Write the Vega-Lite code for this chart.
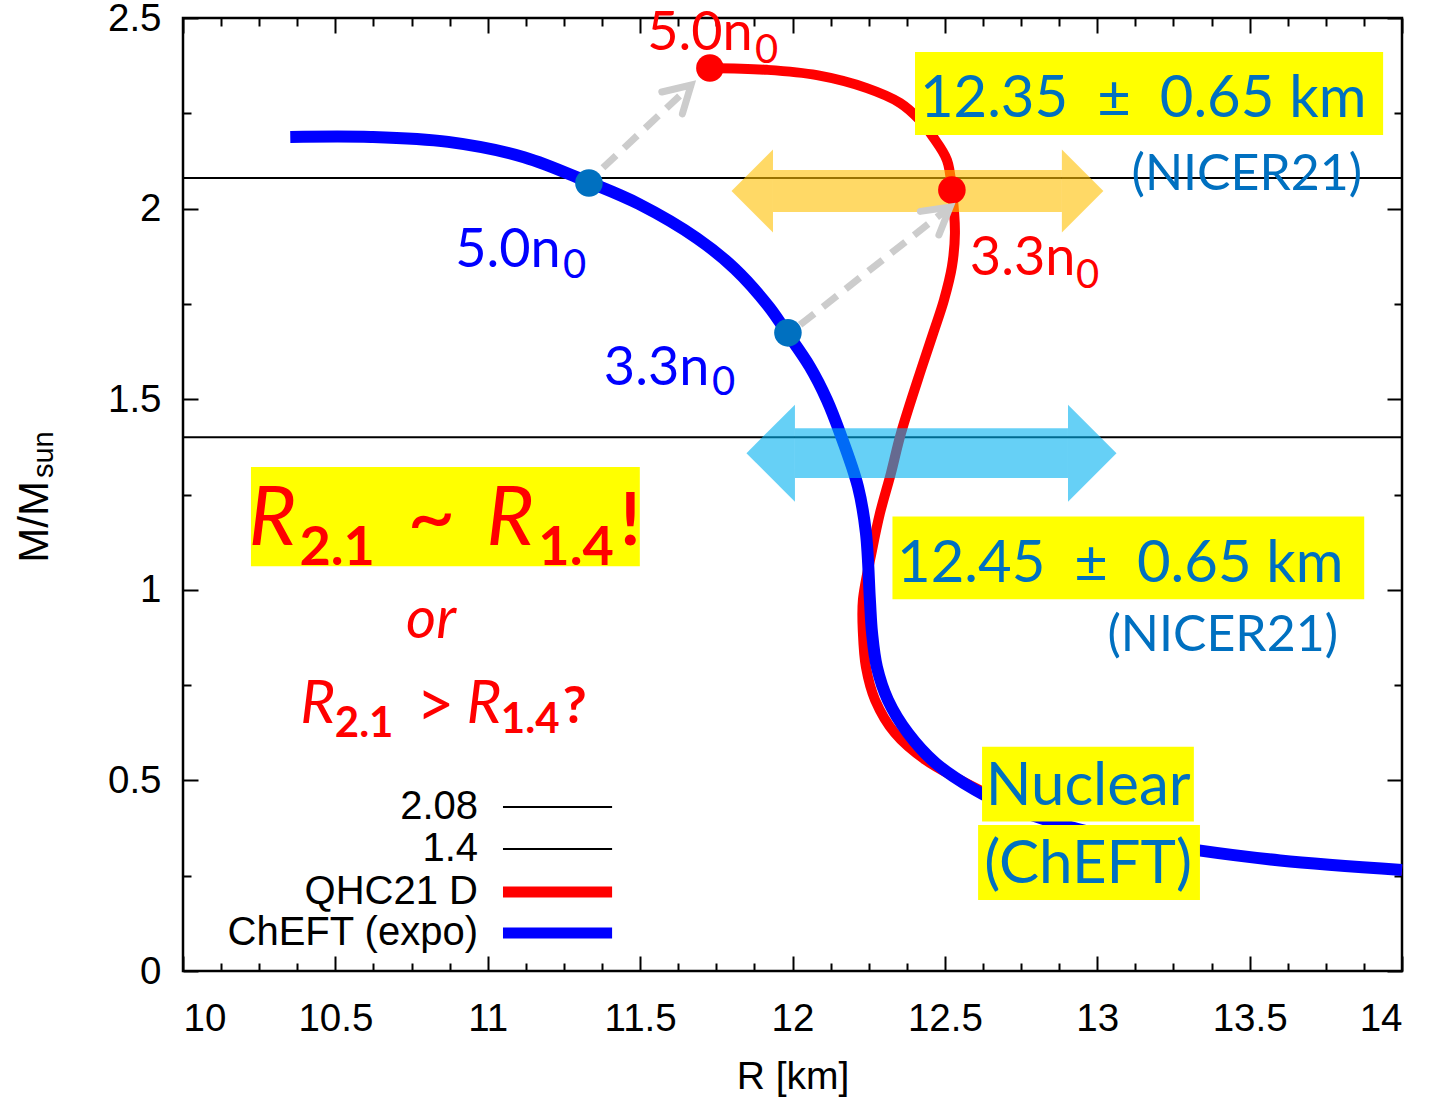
{
  "$schema": "https://vega.github.io/schema/vega-lite/v6.json",
  "width": 1219,
  "height": 953,
  "autosize": {"type": "none"},
  "padding": {"left": 183, "top": 18, "right": 32, "bottom": 130},
  "background": "white",
  "config": {
    "view": {"stroke": "black", "strokeWidth": 2.5},
    "axis": {"grid": false, "domain": false, "labelFont": "Liberation Sans", "titleFont": "Liberation Sans", "labelColor": "black", "titleColor": "black", "tickColor": "black", "tickWidth": 2}
  },
  "datasets": {
    "curves": [
      {"eos": "QHC21 D", "R": 11.729, "M": 2.369},
      {"eos": "QHC21 D", "R": 11.916, "M": 2.364},
      {"eos": "QHC21 D", "R": 12.080, "M": 2.350},
      {"eos": "QHC21 D", "R": 12.244, "M": 2.316},
      {"eos": "QHC21 D", "R": 12.353, "M": 2.277},
      {"eos": "QHC21 D", "R": 12.418, "M": 2.232},
      {"eos": "QHC21 D", "R": 12.461, "M": 2.188},
      {"eos": "QHC21 D", "R": 12.507, "M": 2.127},
      {"eos": "QHC21 D", "R": 12.523, "M": 2.049},
      {"eos": "QHC21 D", "R": 12.533, "M": 1.936},
      {"eos": "QHC21 D", "R": 12.523, "M": 1.847},
      {"eos": "QHC21 D", "R": 12.497, "M": 1.760},
      {"eos": "QHC21 D", "R": 12.462, "M": 1.674},
      {"eos": "QHC21 D", "R": 12.425, "M": 1.585},
      {"eos": "QHC21 D", "R": 12.356, "M": 1.411},
      {"eos": "QHC21 D", "R": 12.323, "M": 1.306},
      {"eos": "QHC21 D", "R": 12.287, "M": 1.201},
      {"eos": "QHC21 D", "R": 12.261, "M": 1.104},
      {"eos": "QHC21 D", "R": 12.231, "M": 0.973},
      {"eos": "QHC21 D", "R": 12.231, "M": 0.887},
      {"eos": "QHC21 D", "R": 12.241, "M": 0.797},
      {"eos": "QHC21 D", "R": 12.271, "M": 0.711},
      {"eos": "QHC21 D", "R": 12.336, "M": 0.624},
      {"eos": "QHC21 D", "R": 12.435, "M": 0.554},
      {"eos": "QHC21 D", "R": 12.550, "M": 0.501},
      {"eos": "QHC21 D", "R": 12.681, "M": 0.449},
      {"eos": "QHC21 D", "R": 12.878, "M": 0.388},
      {"eos": "QHC21 D", "R": 13.009, "M": 0.357},
      {"eos": "QHC21 D", "R": 13.327, "M": 0.317},
      {"eos": "QHC21 D", "R": 13.600, "M": 0.290},
      {"eos": "QHC21 D", "R": 14.000, "M": 0.265},
      {"eos": "ChEFT (expo)", "R": 10.352, "M": 2.188},
      {"eos": "ChEFT (expo)", "R": 10.617, "M": 2.188},
      {"eos": "ChEFT (expo)", "R": 10.870, "M": 2.175},
      {"eos": "ChEFT (expo)", "R": 11.119, "M": 2.135},
      {"eos": "ChEFT (expo)", "R": 11.329, "M": 2.070},
      {"eos": "ChEFT (expo)", "R": 11.496, "M": 2.012},
      {"eos": "ChEFT (expo)", "R": 11.687, "M": 1.922},
      {"eos": "ChEFT (expo)", "R": 11.811, "M": 1.842},
      {"eos": "ChEFT (expo)", "R": 11.923, "M": 1.742},
      {"eos": "ChEFT (expo)", "R": 11.982, "M": 1.674},
      {"eos": "ChEFT (expo)", "R": 12.057, "M": 1.585},
      {"eos": "ChEFT (expo)", "R": 12.113, "M": 1.498},
      {"eos": "ChEFT (expo)", "R": 12.156, "M": 1.411},
      {"eos": "ChEFT (expo)", "R": 12.215, "M": 1.270},
      {"eos": "ChEFT (expo)", "R": 12.241, "M": 1.149},
      {"eos": "ChEFT (expo)", "R": 12.254, "M": 0.973},
      {"eos": "ChEFT (expo)", "R": 12.261, "M": 0.887},
      {"eos": "ChEFT (expo)", "R": 12.277, "M": 0.797},
      {"eos": "ChEFT (expo)", "R": 12.313, "M": 0.711},
      {"eos": "ChEFT (expo)", "R": 12.379, "M": 0.624},
      {"eos": "ChEFT (expo)", "R": 12.470, "M": 0.545},
      {"eos": "ChEFT (expo)", "R": 12.599, "M": 0.475},
      {"eos": "ChEFT (expo)", "R": 12.700, "M": 0.435},
      {"eos": "ChEFT (expo)", "R": 12.850, "M": 0.392},
      {"eos": "ChEFT (expo)", "R": 13.000, "M": 0.360},
      {"eos": "ChEFT (expo)", "R": 13.327, "M": 0.317},
      {"eos": "ChEFT (expo)", "R": 13.600, "M": 0.290},
      {"eos": "ChEFT (expo)", "R": 14.000, "M": 0.265}
    ],
    "legendRows": [
      {"label": "2.08", "R": 10.968, "R1": 11.050, "R2": 11.408, "M": 0.430},
      {"label": "1.4", "R": 10.968, "R1": 11.050, "R2": 11.408, "M": 0.320},
      {"label": "QHC21 D", "R": 10.968, "R1": 11.050, "R2": 11.408, "M": 0.207},
      {"label": "ChEFT (expo)", "R": 10.968, "R1": 11.050, "R2": 11.408, "M": 0.0997}
    ]
  },
  "resolve": {"axis": {"x": "independent", "y": "independent"}},
  "layer": [
    {
      "data": {"values": [{"level": 2.08}, {"level": 1.4}]},
      "mark": {"type": "rule", "color": "black", "strokeWidth": 2},
      "encoding": {
        "y": {"field": "level", "type": "quantitative", "scale": {"domain": [0, 2.5], "nice": false, "zero": true},
          "axis": {"orient": "right", "values": [0, 0.5, 1, 1.5, 2, 2.5], "labels": false, "tickSize": -15, "title": null}}
      }
    },
    {
      "data": {"name": "curves"},
      "transform": [{"filter": "datum.eos === 'QHC21 D'"}],
      "mark": {"type": "line", "strokeWidth": 10, "strokeCap": "butt", "strokeJoin": "round", "interpolate": "catmull-rom"},
      "encoding": {
        "x": {"field": "R", "type": "quantitative", "scale": {"domain": [10, 14], "nice": false, "zero": false},
          "axis": {"orient": "bottom", "values": [10, 10.5, 11, 11.5, 12, 12.5, 13, 13.5, 14], "format": "~g", "ticks": false, "labelFontSize": 38.5, "labelPadding": 29, "title": "R [km]", "titleFontSize": 39, "titleFontWeight": "normal", "titlePadding": 20}},
        "y": {"field": "M", "type": "quantitative", "scale": {"domain": [0, 2.5], "nice": false},
          "axis": {"orient": "left", "values": [0, 0.5, 1, 1.5, 2, 2.5], "format": "~g", "ticks": false, "labelFontSize": 38.5, "labelPadding": 22, "title": null}},
        "color": {"field": "eos", "type": "nominal", "scale": {"domain": ["QHC21 D", "ChEFT (expo)"], "range": ["#FF0000", "#0000FF"]}, "legend": null},
        "order": {"value": null}
      }
    },
    {
      "data": {"name": "curves"},
      "transform": [{"filter": "datum.eos === 'ChEFT (expo)'"}],
      "mark": {"type": "line", "strokeWidth": 12, "strokeCap": "butt", "strokeJoin": "round", "interpolate": "catmull-rom"},
      "encoding": {
        "x": {"field": "R", "type": "quantitative", "axis": {"orient": "bottom", "values": [10, 10.5, 11, 11.5, 12, 12.5, 13, 13.5, 14], "labels": false, "tickSize": -15, "title": null}},
        "y": {"field": "M", "type": "quantitative", "axis": {"orient": "left", "values": [0, 0.5, 1, 1.5, 2, 2.5], "labels": false, "tickSize": -15, "title": null}},
        "color": {"field": "eos", "type": "nominal", "scale": {"domain": ["QHC21 D", "ChEFT (expo)"], "range": ["#FF0000", "#0000FF"]}, "legend": null},
        "order": {"value": null}
      }
    },
    {
      "data": {"values": [{"band": "NICER21 at 2.08", "R1": 11.936, "R2": 12.884, "M1": 1.991, "M2": 2.101}]},
      "mark": {"type": "rect", "color": "#FFC000", "opacity": 0.6},
      "encoding": {
        "x": {"field": "R1", "type": "quantitative", "axis": {"orient": "top", "values": [10, 10.5, 11, 11.5, 12, 12.5, 13, 13.5, 14], "labels": false, "tickSize": -15, "title": null}},
        "x2": {"field": "R2"},
        "y": {"field": "M1", "type": "quantitative", "axis": {"orient": "left", "values": [0.25, 0.75, 1.25, 1.75, 2.25], "labels": false, "tickSize": -8, "title": null}},
        "y2": {"field": "M2"}
      }
    },
    {
      "data": {"values": [{"side": "left", "R": 11.936, "M": 2.046}, {"side": "right", "R": 12.884, "M": 2.046}]},
      "mark": {"type": "point", "filled": true, "color": "#FFC000", "opacity": 0.6, "strokeWidth": 0, "size": 6889},
      "encoding": {
        "x": {"field": "R", "type": "quantitative", "axis": null},
        "y": {"field": "M", "type": "quantitative", "axis": null},
        "shape": {"field": "side", "type": "nominal", "scale": {"domain": ["left", "right"], "range": ["M0,-1L-1,0L0,1Z", "M0,-1L1,0L0,1Z"]}, "legend": null}
      }
    },
    {
      "data": {"values": [{"band": "NICER21 at 1.4", "R1": 12.008, "R2": 12.904, "M1": 1.293, "M2": 1.424}]},
      "mark": {"type": "rect", "color": "#00B0F0", "opacity": 0.6},
      "encoding": {
        "x": {"field": "R1", "type": "quantitative", "axis": {"orient": "bottom", "values": [10.125, 10.25, 10.375, 10.625, 10.75, 10.875, 11.125, 11.25, 11.375, 11.625, 11.75, 11.875, 12.125, 12.25, 12.375, 12.625, 12.75, 12.875, 13.125, 13.25, 13.375, 13.625, 13.75, 13.875], "labels": false, "tickSize": -8, "title": null}},
        "x2": {"field": "R2"},
        "y": {"field": "M1", "type": "quantitative", "axis": {"orient": "right", "values": [0.25, 0.75, 1.25, 1.75, 2.25], "labels": false, "tickSize": -8, "title": null}},
        "y2": {"field": "M2"}
      }
    },
    {
      "data": {"values": [{"side": "left", "R": 12.008, "M": 1.3585}, {"side": "right", "R": 12.904, "M": 1.3585}]},
      "mark": {"type": "point", "filled": true, "color": "#00B0F0", "opacity": 0.6, "strokeWidth": 0, "size": 9409},
      "encoding": {
        "x": {"field": "R", "type": "quantitative", "axis": null},
        "y": {"field": "M", "type": "quantitative", "axis": null},
        "shape": {"field": "side", "type": "nominal", "scale": {"domain": ["left", "right"], "range": ["M0,-1L-1,0L0,1Z", "M0,-1L1,0L0,1Z"]}, "legend": null}
      }
    },
    {
      "data": {"values": [{"R": 11.729, "M": 2.369}, {"R": 12.523, "M": 2.049}]},
      "mark": {"type": "point", "shape": "circle", "filled": true, "color": "#FF0000", "opacity": 1, "size": 760},
      "encoding": {
        "x": {"field": "R", "type": "quantitative", "axis": null},
        "y": {"field": "M", "type": "quantitative", "axis": null}
      }
    },
    {
      "data": {"values": [{"R": 11.332, "M": 2.067}, {"R": 11.985, "M": 1.674}]},
      "mark": {"type": "point", "shape": "circle", "filled": true, "color": "#0070C0", "opacity": 1, "size": 760},
      "encoding": {
        "x": {"field": "R", "type": "quantitative", "axis": null},
        "y": {"field": "M", "type": "quantitative", "axis": null}
      }
    },
    {
      "data": {"values": [
        {"arrow": "5.0n0", "R": 11.378, "M": 2.107}, {"arrow": "5.0n0", "R": 11.654, "M": 2.314},
        {"arrow": "3.3n0", "R": 12.025, "M": 1.695}, {"arrow": "3.3n0", "R": 12.500, "M": 1.994}
      ]},
      "mark": {"type": "line", "color": "#CCCCCC", "strokeWidth": 7, "strokeDash": [18, 11], "strokeCap": "butt"},
      "encoding": {
        "x": {"field": "R", "type": "quantitative", "axis": null},
        "y": {"field": "M", "type": "quantitative", "axis": null},
        "detail": {"field": "arrow"},
        "order": {"value": null}
      }
    },
    {
      "data": {"values": [{"R": 11.667, "M": 2.324}]},
      "mark": {"type": "point", "shape": "M-0.5,0.866L0,0L0.5,0.866", "filled": false, "color": "#CCCCCC", "strokeWidth": 7, "strokeCap": "round", "strokeJoin": "miter", "opacity": 1, "size": 3600, "angle": 46.7},
      "encoding": {
        "x": {"field": "R", "type": "quantitative", "axis": null},
        "y": {"field": "M", "type": "quantitative", "axis": null}
      }
    },
    {
      "data": {"values": [{"R": 12.517, "M": 2.004}]},
      "mark": {"type": "point", "shape": "M-0.5,0.866L0,0L0.5,0.866", "filled": false, "color": "#CCCCCC", "strokeWidth": 7, "strokeCap": "round", "strokeJoin": "miter", "opacity": 1, "size": 3600, "angle": 51.8},
      "encoding": {
        "x": {"field": "R", "type": "quantitative", "axis": null},
        "y": {"field": "M", "type": "quantitative", "axis": null}
      }
    },
    {
      "data": {"values": [
        {"box": "12.35", "R1": 12.402, "R2": 13.938, "M1": 2.193, "M2": 2.411},
        {"box": "12.45", "R1": 12.328, "R2": 13.876, "M1": 0.975, "M2": 1.192},
        {"box": "Nuclear", "R1": 12.622, "R2": 13.317, "M1": 0.392, "M2": 0.588},
        {"box": "ChEFT", "R1": 12.609, "R2": 13.337, "M1": 0.186, "M2": 0.383},
        {"box": "R21R14", "R1": 10.223, "R2": 11.499, "M1": 1.062, "M2": 1.322}
      ]},
      "mark": {"type": "rect", "color": "#FFFF00"},
      "encoding": {
        "x": {"field": "R1", "type": "quantitative", "axis": {"orient": "top", "values": [10.125, 10.25, 10.375, 10.625, 10.75, 10.875, 11.125, 11.25, 11.375, 11.625, 11.75, 11.875, 12.125, 12.25, 12.375, 12.625, 12.75, 12.875, 13.125, 13.25, 13.375, 13.625, 13.75, 13.875], "labels": false, "tickSize": -8, "title": null}},
        "x2": {"field": "R2"},
        "y": {"field": "M1", "type": "quantitative", "axis": null},
        "y2": {"field": "M2"}
      }
    },
    {
      "data": {"values": [
        {"text": "12.35\u2002±\u20020.65 km", "R": 12.418, "M": 2.240},
        {"text": "12.45\u2002±\u20020.65 km", "R": 12.343, "M": 1.0205}
      ]},
      "mark": {"type": "text", "font": "Lato", "fontSize": 58, "color": "#0070C0", "align": "left", "baseline": "alphabetic"},
      "encoding": {
        "x": {"field": "R", "type": "quantitative", "axis": null},
        "y": {"field": "M", "type": "quantitative", "axis": null},
        "text": {"field": "text"}
      }
    },
    {
      "data": {"values": [
        {"text": "(NICER21)", "R": 13.869, "M": 2.049},
        {"text": "(NICER21)", "R": 13.790, "M": 0.8395}
      ]},
      "mark": {"type": "text", "font": "Lato", "fontSize": 50, "color": "#0070C0", "align": "right", "baseline": "alphabetic"},
      "encoding": {
        "x": {"field": "R", "type": "quantitative", "axis": null},
        "y": {"field": "M", "type": "quantitative", "axis": null},
        "text": {"field": "text"}
      }
    },
    {
      "data": {"values": [
        {"text": "Nuclear", "R": 12.970, "M": 0.4355},
        {"text": "(ChEFT)", "R": 12.970, "M": 0.2308}
      ]},
      "mark": {"type": "text", "font": "Lato", "fontSize": 60, "color": "#0070C0", "align": "center", "baseline": "alphabetic"},
      "encoding": {
        "x": {"field": "R", "type": "quantitative", "axis": null},
        "y": {"field": "M", "type": "quantitative", "axis": null},
        "text": {"field": "text"}
      }
    },
    {
      "data": {"values": [
        {"eos": "QHC21 D", "text": "5.0n", "R": 11.523, "M": 2.416},
        {"eos": "QHC21 D", "text": "3.3n", "R": 12.582, "M": 1.826},
        {"eos": "ChEFT (expo)", "text": "5.0n", "R": 10.893, "M": 1.847},
        {"eos": "ChEFT (expo)", "text": "3.3n", "R": 11.381, "M": 1.537}
      ]},
      "mark": {"type": "text", "font": "Lato", "fontSize": 54, "align": "left", "baseline": "alphabetic"},
      "encoding": {
        "x": {"field": "R", "type": "quantitative", "axis": null},
        "y": {"field": "M", "type": "quantitative", "axis": null},
        "text": {"field": "text"},
        "color": {"field": "eos", "type": "nominal", "scale": {"domain": ["QHC21 D", "ChEFT (expo)"], "range": ["#FF0000", "#0000FF"]}, "legend": null}
      }
    },
    {
      "data": {"values": [
        {"eos": "QHC21 D", "text": "0", "R": 11.877, "M": 2.382},
        {"eos": "QHC21 D", "text": "0", "R": 12.930, "M": 1.792},
        {"eos": "ChEFT (expo)", "text": "0", "R": 11.247, "M": 1.818},
        {"eos": "ChEFT (expo)", "text": "0", "R": 11.736, "M": 1.511}
      ]},
      "mark": {"type": "text", "font": "Lato", "fontSize": 40, "align": "left", "baseline": "alphabetic"},
      "encoding": {
        "x": {"field": "R", "type": "quantitative", "axis": null},
        "y": {"field": "M", "type": "quantitative", "axis": null},
        "text": {"field": "text"},
        "color": {"field": "eos", "type": "nominal", "scale": {"domain": ["QHC21 D", "ChEFT (expo)"], "range": ["#FF0000", "#0000FF"]}, "legend": null}
      }
    },
    {
      "data": {"values": [{"text": "R", "R": 10.215, "M": 1.1175}, {"text": "R", "R": 10.995, "M": 1.1175}]},
      "mark": {"type": "text", "font": "Lato", "fontStyle": "italic", "fontSize": 82, "color": "#FF0000", "align": "left", "baseline": "alphabetic"},
      "encoding": {
        "x": {"field": "R", "type": "quantitative", "axis": null},
        "y": {"field": "M", "type": "quantitative", "axis": null},
        "text": {"field": "text"}
      }
    },
    {
      "data": {"values": [{"text": "2.1", "R": 10.382, "M": 1.065}, {"text": "1.4", "R": 11.166, "M": 1.065}]},
      "mark": {"type": "text", "font": "Lato", "fontWeight": "bold", "fontSize": 54, "color": "#FF0000", "align": "left", "baseline": "alphabetic"},
      "encoding": {
        "x": {"field": "R", "type": "quantitative", "axis": null},
        "y": {"field": "M", "type": "quantitative", "axis": null},
        "text": {"field": "text"}
      }
    },
    {
      "data": {"values": [{"text": "~", "R": 10.735, "M": 1.1175}]},
      "mark": {"type": "text", "font": "Lato", "fontSize": 84, "color": "#FF0000", "align": "left", "baseline": "alphabetic"},
      "encoding": {
        "x": {"field": "R", "type": "quantitative", "axis": null},
        "y": {"field": "M", "type": "quantitative", "axis": null},
        "text": {"field": "text"}
      }
    },
    {
      "data": {"values": [{"text": "!", "R": 11.435, "M": 1.1175}]},
      "mark": {"type": "text", "font": "Lato", "fontWeight": "bold", "fontSize": 72, "color": "#FF0000", "align": "left", "baseline": "alphabetic"},
      "encoding": {
        "x": {"field": "R", "type": "quantitative", "axis": null},
        "y": {"field": "M", "type": "quantitative", "axis": null},
        "text": {"field": "text"}
      }
    },
    {
      "data": {"values": [{"text": "or", "R": 10.814, "M": 0.8736}]},
      "mark": {"type": "text", "font": "Lato", "fontStyle": "italic", "fontSize": 58, "color": "#FF0000", "align": "center", "baseline": "alphabetic"},
      "encoding": {
        "x": {"field": "R", "type": "quantitative", "axis": null},
        "y": {"field": "M", "type": "quantitative", "axis": null},
        "text": {"field": "text"}
      }
    },
    {
      "data": {"values": [{"text": "R", "R": 10.385, "M": 0.6506}, {"text": "R", "R": 10.930, "M": 0.6506}]},
      "mark": {"type": "text", "font": "Lato", "fontStyle": "italic", "fontSize": 60, "color": "#FF0000", "align": "left", "baseline": "alphabetic"},
      "encoding": {
        "x": {"field": "R", "type": "quantitative", "axis": null},
        "y": {"field": "M", "type": "quantitative", "axis": null},
        "text": {"field": "text"}
      }
    },
    {
      "data": {"values": [{"text": "2.1", "R": 10.498, "M": 0.614}, {"text": "1.4", "R": 11.043, "M": 0.624}]},
      "mark": {"type": "text", "font": "Lato", "fontWeight": "bold", "fontSize": 42, "color": "#FF0000", "align": "left", "baseline": "alphabetic"},
      "encoding": {
        "x": {"field": "R", "type": "quantitative", "axis": null},
        "y": {"field": "M", "type": "quantitative", "axis": null},
        "text": {"field": "text"}
      }
    },
    {
      "data": {"values": [{"text": ">", "R": 10.765, "M": 0.640}]},
      "mark": {"type": "text", "font": "Lato", "fontSize": 66, "color": "#FF0000", "align": "left", "baseline": "alphabetic"},
      "encoding": {
        "x": {"field": "R", "type": "quantitative", "axis": null},
        "y": {"field": "M", "type": "quantitative", "axis": null},
        "text": {"field": "text"}
      }
    },
    {
      "data": {"values": [{"text": "?", "R": 11.246, "M": 0.6506}]},
      "mark": {"type": "text", "font": "Lato", "fontWeight": "bold", "fontSize": 52, "color": "#FF0000", "align": "left", "baseline": "alphabetic"},
      "encoding": {
        "x": {"field": "R", "type": "quantitative", "axis": null},
        "y": {"field": "M", "type": "quantitative", "axis": null},
        "text": {"field": "text"}
      }
    },
    {
      "data": {"name": "legendRows"},
      "mark": {"type": "text", "font": "Liberation Sans", "fontSize": 40, "color": "black", "align": "right", "baseline": "middle"},
      "encoding": {
        "x": {"field": "R", "type": "quantitative", "axis": null},
        "y": {"field": "M", "type": "quantitative", "axis": null},
        "text": {"field": "label"}
      }
    },
    {
      "data": {"name": "legendRows"},
      "transform": [{"filter": "datum.label === '2.08' || datum.label === '1.4'"}],
      "mark": {"type": "rule", "color": "black", "strokeWidth": 2},
      "encoding": {
        "x": {"field": "R1", "type": "quantitative", "axis": null},
        "x2": {"field": "R2"},
        "y": {"field": "M", "type": "quantitative", "axis": null}
      }
    },
    {
      "data": {"name": "legendRows"},
      "transform": [{"filter": "datum.label === 'QHC21 D' || datum.label === 'ChEFT (expo)'"}],
      "mark": {"type": "rule", "strokeWidth": 11},
      "encoding": {
        "x": {"field": "R1", "type": "quantitative", "axis": null},
        "x2": {"field": "R2"},
        "y": {"field": "M", "type": "quantitative", "axis": null},
        "color": {"field": "label", "type": "nominal", "scale": {"domain": ["QHC21 D", "ChEFT (expo)"], "range": ["#FF0000", "#0000FF"]}, "legend": null}
      }
    },
    {
      "data": {"values": [{"text": "M/M", "R": 9.514, "M": 1.071}]},
      "mark": {"type": "text", "font": "Liberation Sans", "fontSize": 42, "color": "black", "align": "left", "baseline": "middle", "angle": 270},
      "encoding": {
        "x": {"field": "R", "type": "quantitative", "axis": null},
        "y": {"field": "M", "type": "quantitative", "axis": null},
        "text": {"field": "text"}
      }
    },
    {
      "data": {"values": [{"text": "sun", "R": 9.545, "M": 1.293}]},
      "mark": {"type": "text", "font": "Liberation Sans", "fontSize": 29, "color": "black", "align": "left", "baseline": "middle", "angle": 270},
      "encoding": {
        "x": {"field": "R", "type": "quantitative", "axis": null},
        "y": {"field": "M", "type": "quantitative", "axis": null},
        "text": {"field": "text"}
      }
    }
  ]
}
